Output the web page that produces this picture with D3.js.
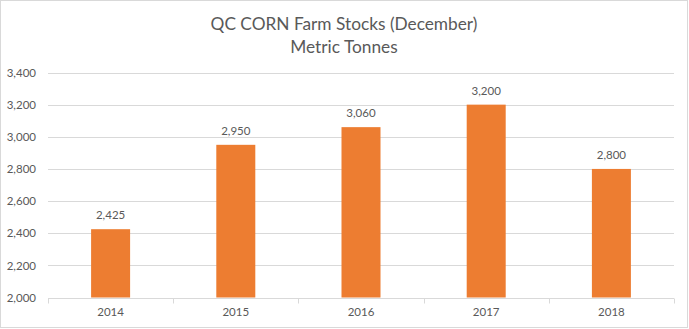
<!DOCTYPE html>
<html>
<head>
<meta charset="utf-8">
<script src="https://cdn.jsdelivr.net/npm/d3@7"></script>
<style>
  html, body { margin: 0; padding: 0; background: #fff; }
  svg { display: block; }
  text { font-family: Lato, "Open Sans", "Liberation Sans", sans-serif; fill: #595959; }
</style>
</head>
<body>
<svg id="chart" width="689" height="329"></svg>
<script>
const titleLines = ["QC CORN Farm Stocks (December)", "Metric Tonnes"];
const categories = ["2014", "2015", "2016", "2017", "2018"];
const values = [2425, 2950, 3060, 3200, 2800];
const yTicks = [2000, 2200, 2400, 2600, 2800, 3000, 3200, 3400];

const W = 689, H = 329;
const margin = { left: 48, right: 15, top: 72.5, bottom: 31.5 };
const svg = d3.select("#chart");

svg.append("rect")
  .attr("x", 0.5).attr("y", 0.5)
  .attr("width", W - 2).attr("height", H - 2)
  .attr("fill", "#fff").attr("stroke", "#d9d9d9");

const x = d3.scaleBand()
  .domain(categories)
  .range([margin.left, W - margin.right])
  .paddingInner(0.6885).paddingOuter(0.34425);

const y = d3.scaleLinear()
  .domain([2000, 3400])
  .range([H - margin.bottom, margin.top]);

// gridlines
svg.append("g").selectAll("line")
  .data(yTicks.slice(1))
  .join("line")
  .attr("x1", margin.left).attr("x2", W - margin.right)
  .attr("y1", d => Math.round(y(d)) + 0.5).attr("y2", d => Math.round(y(d)) + 0.5)
  .attr("stroke", "#d9d9d9").attr("stroke-width", 1);

// y axis labels
const yAxis = d3.axisLeft(y).tickValues(yTicks).tickFormat(d3.format(",")).tickSize(0).tickPadding(12);
const yg = svg.append("g").attr("transform", `translate(${margin.left},0)`).call(yAxis);
yg.select(".domain").remove();
yg.selectAll("text").attr("font-size", 11.5).style("font-family", null).attr("fill", "#595959");

// bars
svg.append("g").selectAll("rect")
  .data(values)
  .join("rect")
  .attr("x", (d, i) => x(categories[i]))
  .attr("width", x.bandwidth())
  .attr("y", d => y(d))
  .attr("height", d => y(2000) - y(d))
  .attr("fill", "#ed7d31");

// data labels
svg.append("g").selectAll("text")
  .data(values)
  .join("text")
  .attr("x", (d, i) => x(categories[i]) + x.bandwidth() / 2)
  .attr("y", d => y(d) - 10)
  .attr("text-anchor", "middle")
  .attr("font-size", 11.5)
  .text(d => d3.format(",")(d));

// x axis
const step = x.step();
const baseY = Math.round(y(2000)) + 0.5;
svg.append("line")
  .attr("x1", margin.left).attr("x2", W - margin.right)
  .attr("y1", baseY).attr("y2", baseY)
  .attr("stroke", "#d9d9d9");
const boundaries = d3.range(categories.length + 1).map(i => margin.left + i * step);
svg.append("g").selectAll("line")
  .data(boundaries)
  .join("line")
  .attr("x1", d => Math.round(d) + 0.5).attr("x2", d => Math.round(d) + 0.5)
  .attr("y1", baseY).attr("y2", baseY + 5)
  .attr("stroke", "#d9d9d9");

svg.append("g").selectAll("text")
  .data(categories)
  .join("text")
  .attr("x", d => x(d) + x.bandwidth() / 2)
  .attr("y", 316)
  .attr("text-anchor", "middle")
  .attr("font-size", 11.5)
  .text(d => d);

// title
svg.append("text").attr("x", 344).attr("y", 30).attr("text-anchor", "middle")
  .attr("font-size", 17.3).text(titleLines[0]);
svg.append("text").attr("x", 344).attr("y", 53).attr("text-anchor", "middle")
  .attr("font-size", 17.3).text(titleLines[1]);
</script>
</body>
</html>
